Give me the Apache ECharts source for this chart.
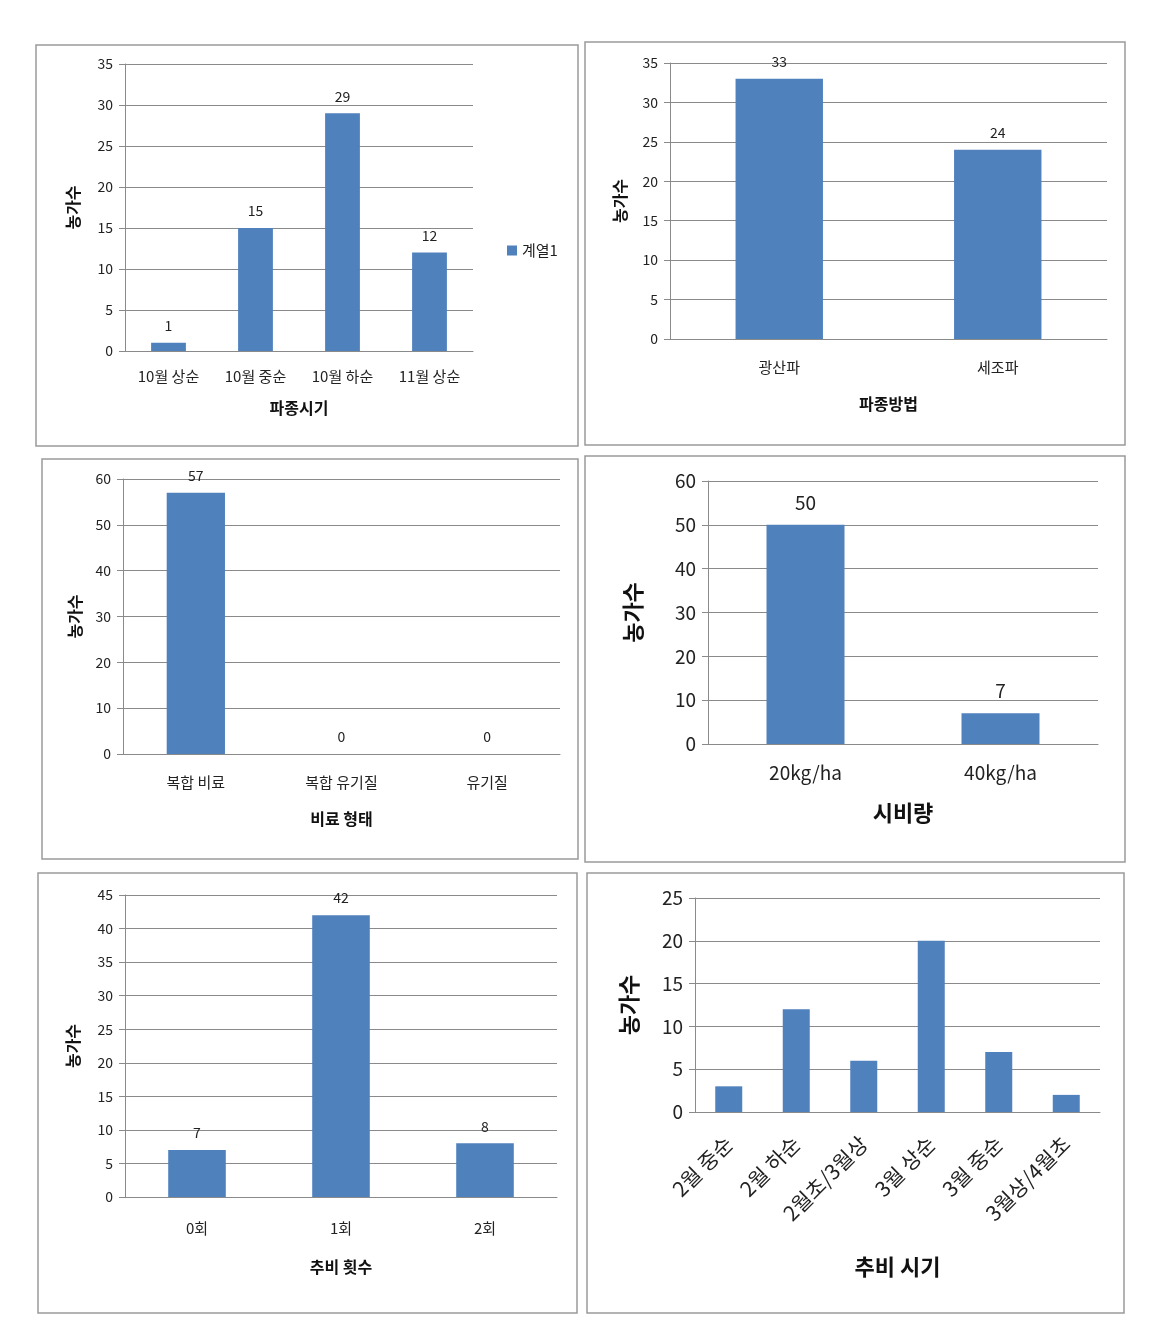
<!DOCTYPE html>
<html><head><meta charset="utf-8">
<script src="https://cdn.jsdelivr.net/npm/echarts@6/dist/echarts.min.js"></script>
<style>html,body{margin:0;padding:0;background:#fff}#c{width:1176px;height:1329px}</style>
</head><body><div id="c"></div>
<script>
const yName = '농가수';
const seriesName = '계열1';

const cat1 = ['10월 상순', '10월 중순', '10월 하순', '11월 상순'];
const val1 = [1, 15, 29, 12];
const xName1 = '파종시기';

const cat2 = ['광산파', '세조파'];
const val2 = [33, 24];
const xName2 = '파종방법';

const cat3 = ['복합 비료', '복합 유기질', '유기질'];
const val3 = [57, 0, 0];
const xName3 = '비료 형태';

const cat4 = ['20kg/ha', '40kg/ha'];
const val4 = [50, 7];
const xName4 = '시비량';

const cat5 = ['0회', '1회', '2회'];
const val5 = [7, 42, 8];
const xName5 = '추비 횟수';

const cat6 = ['2월 중순', '2월 하순', '2월초/3월상', '3월 상순', '3월 중순', '3월상/4월초'];
const val6 = [3, 12, 6, 20, 7, 2];
const xName6 = '추비 시기';

const FONT = '"Noto Sans CJK KR", "Noto Sans", sans-serif';
const BAR = '#4F81BD';
const GRIDC = '#8a8a8a';

const panels = [
  {cat: cat1, val: val1, xn: xName1, max: 35, step: 5, grid: {left: 125, top: 64, width: 348, height: 287}, fs: 14, xfs: 15, nfs: 16, yfs: 16, label: true, ld: 10, ynGap: 44, xnGap: 49, lm: 18, border: [36, 45, 542, 401]},
  {cat: cat2, val: val2, xn: xName2, max: 35, step: 5, grid: {left: 670, top: 63, width: 437, height: 276}, fs: 14, xfs: 15, nfs: 16, yfs: 16, label: true, ld: 10, ynGap: 42, xnGap: 57, lm: 21, border: [585, 42, 540, 403]},
  {cat: cat3, val: val3, xn: xName3, max: 60, step: 10, grid: {left: 123, top: 479, width: 437, height: 275}, fs: 14, xfs: 15, nfs: 16, yfs: 16, label: true, ld: 10, ynGap: 40, xnGap: 57, lm: 21, border: [42, 459, 536, 400]},
  {cat: cat4, val: val4, xn: xName4, max: 60, step: 10, grid: {left: 708, top: 481, width: 390, height: 263}, fs: 19, xfs: 19, nfs: 22, yfs: 22, label: true, ld: 13, ynGap: 64, xnGap: 58, lm: 19, border: [585, 456, 540, 406]},
  {cat: cat5, val: val5, xn: xName5, max: 45, step: 5, grid: {left: 125, top: 895, width: 432, height: 302}, fs: 14, xfs: 15, nfs: 16, yfs: 16, label: true, ld: 10, ynGap: 44, xnGap: 62, lm: 24, border: [38, 873, 539, 440]},
  {cat: cat6, val: val6, xn: xName6, max: 25, step: 5, grid: {left: 695, top: 898, width: 405, height: 214}, fs: 19, xfs: 21, nfs: 22, yfs: 22, label: false, ld: 10, ynGap: 55, xnGap: 144, lm: 28, rot: 45, border: [587, 873, 537, 440]}
];

const option = {
  animation: false,
  backgroundColor: '#fff',
  grid: [], xAxis: [], yAxis: [], series: [],
  legend: {
    data: [seriesName], left: 502, top: 238, itemWidth: 10, itemHeight: 10, itemGap: 4,
    icon: 'rect', textStyle: {fontFamily: FONT, fontSize: 15, color: '#222'}
  },
  graphic: []
};

panels.forEach((p, i) => {
  option.grid.push(p.grid);
  option.xAxis.push({
    type: 'category', gridIndex: i, data: p.cat,
    name: p.xn, nameLocation: 'middle', nameGap: p.xnGap,
    nameTextStyle: {fontFamily: FONT, fontSize: p.nfs, fontWeight: 'bold', color: '#111'},
    axisLine: {lineStyle: {color: GRIDC, width: 1}},
    axisTick: {show: false},
    axisLabel: {fontFamily: FONT, fontSize: p.xfs, color: '#222', margin: p.lm, rotate: p.rot || 0, interval: 0}
  });
  option.yAxis.push({
    type: 'value', gridIndex: i, min: 0, max: p.max, interval: p.step,
    name: yName, nameLocation: 'middle', nameRotate: 90, nameGap: p.ynGap,
    nameTextStyle: {fontFamily: FONT, fontSize: p.yfs, fontWeight: 'bold', color: '#111'},
    axisLine: {show: true, lineStyle: {color: GRIDC, width: 1}},
    axisTick: {show: true, length: 6, inside: false, lineStyle: {color: GRIDC}},
    splitLine: {lineStyle: {color: GRIDC, width: 1}},
    axisLabel: {fontFamily: FONT, fontSize: p.fs, color: '#222', margin: 12}
  });
  option.series.push({
    type: 'bar', name: i === 0 ? seriesName : seriesName + '_' + i,
    xAxisIndex: i, yAxisIndex: i, data: p.val, barWidth: '40%',
    itemStyle: {color: BAR},
    label: {show: p.label, position: 'top', distance: p.ld, fontFamily: FONT, fontSize: p.fs, color: '#222'}
  });
  option.graphic.push({
    type: 'rect', shape: {x: p.border[0], y: p.border[1], width: p.border[2], height: p.border[3]},
    style: {fill: 'none', stroke: '#9a9a9a', lineWidth: 1.5}, silent: true
  });
});

const chart = echarts.init(document.getElementById('c'), null, {renderer: 'canvas'});
chart.setOption(option);
</script></body></html>
